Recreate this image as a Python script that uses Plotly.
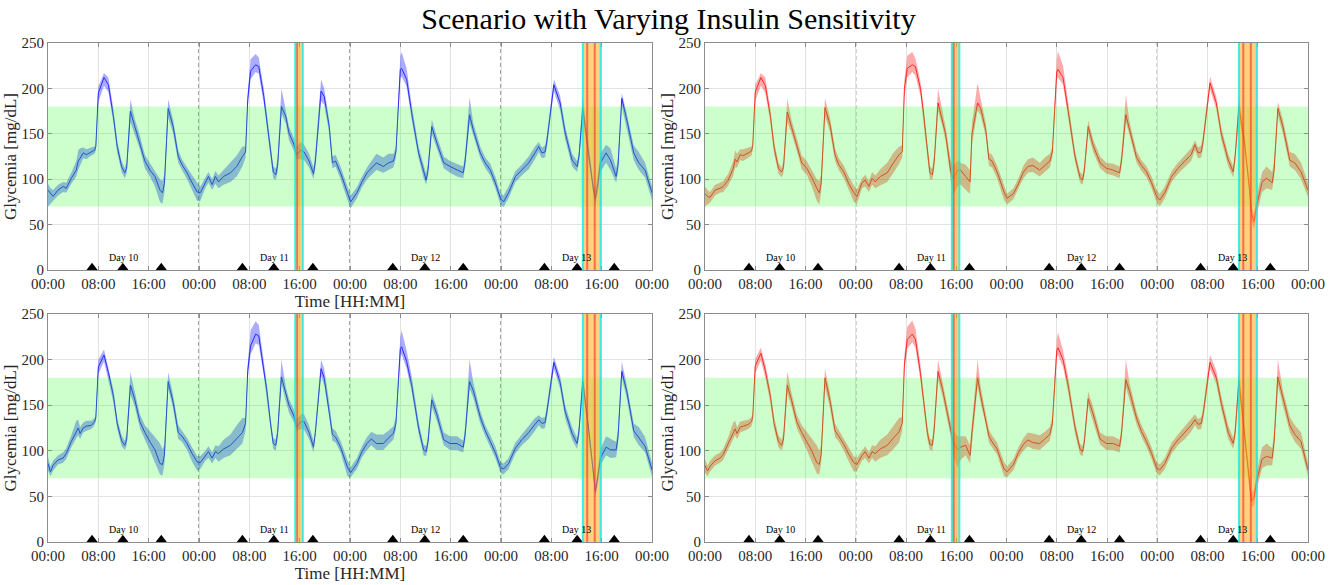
import plotly.graph_objects as go

# ---------------------------------------------------------------------------
# Data: four days (Day 10-13) of CGM glycemia, hours since 00:00 of Day 10
# ---------------------------------------------------------------------------
hours = [
    0, 0.4, 0.8, 1.6, 2.4, 2.9, 3.7, 4.5, 4.8, 5.1, 5.6, 6.1, 6.9, 7.4, 7.6, 8.0, 8.9, 9.6, 10.4, 11.0,
    11.7, 12.2, 12.5, 13.1, 13.8, 14.6, 15.4, 16.2, 17.0, 17.8, 18.2, 18.5, 19.1, 19.9, 20.7, 21.3, 22.1, 22.9, 23.7,
    24.2, 25.0, 25.5, 26.1, 26.6, 27.1, 27.9, 29.0, 30.0, 30.9, 31.4, 31.75, 32.2, 33.0, 33.5, 34.3, 34.8, 35.4, 35.8,
    36.2, 36.5, 37.1, 37.8, 38.3, 39.1, 39.5, 40.2, 40.7, 41.5, 42.2, 42.5, 43.4, 43.9, 44.7, 45.2, 45.7, 46.5, 47.6,
    48.1, 49.1, 49.9, 50.7, 51.4, 52.2, 53.3, 54.1, 54.9, 55.3, 56.0, 56.2, 57.0, 57.8, 58.9, 59.7, 60.1, 60.4, 61.0,
    61.8, 62.9, 63.9, 65.0, 66.0, 66.3, 67.0, 67.6, 68.7, 69.5, 70.3, 71.1, 71.9,
    72.4, 73.2, 74.3, 75.3, 76.4, 77.4, 78.0, 78.5, 79.0, 79.3, 80.4, 81.4, 82.2, 83.3, 84.1, 84.4, 85.0, 85.9, 86.7,
    87.0, 87.4, 87.8, 88.7, 89.4, 90.3, 90.6, 91.2, 92.0, 93.1, 93.9, 94.9, 96.0,
]

# Top-left (blue)
mean_a = [
    88, 84, 81, 88, 92, 90, 101, 110, 120, 123, 129, 127, 130, 132, 136, 195, 212, 204, 169, 136,
    114, 107, 112, 175, 158, 140, 120, 110, 103, 88, 85, 95, 178, 158, 125, 116, 107, 96, 86,
    85, 96, 103, 94, 103, 97, 103, 107, 114, 125, 130, 188, 219, 226, 224, 191, 165, 129, 108,
    105, 115, 180, 169, 151, 138, 127, 132, 130, 120, 106, 120, 197, 191, 158, 118, 120, 107, 85,
    75, 85, 97, 107, 112, 118, 114, 118, 120, 130, 221, 222, 210, 173, 129, 107, 99, 110, 158,
    140, 118, 114, 110, 107, 120, 171, 154, 129, 118, 110, 96, 79,
    75, 85, 103, 110, 118, 129, 136, 129, 130, 142, 204, 184, 151, 121, 114, 125, 178, 129, 88,
    79, 95, 118, 129, 121, 103, 115, 189, 165, 129, 118, 110, 85,
]
lo_a = [
    70, 74, 76, 82, 86, 85, 95, 103, 110, 116, 123, 122, 126, 128, 131, 185, 203, 196, 162, 129,
    108, 101, 106, 163, 150, 133, 112, 103, 92, 75, 73, 85, 168, 150, 118, 110, 100, 88, 76,
    76, 90, 96, 88, 95, 90, 94, 97, 103, 114, 124, 180, 210, 218, 216, 183, 158, 122, 101,
    99, 108, 172, 161, 143, 131, 122, 122, 121, 113, 100, 113, 186, 182, 151, 112, 114, 100, 77,
    68, 79, 91, 100, 105, 110, 107, 110, 113, 124, 212, 213, 202, 166, 123, 101, 94, 104, 150,
    133, 112, 107, 103, 101, 113, 162, 147, 123, 112, 104, 90, 72,
    69, 79, 97, 104, 111, 122, 130, 123, 124, 135, 197, 176, 144, 114, 108, 118, 168, 122, 82,
    71, 86, 108, 118, 110, 96, 108, 180, 157, 121, 110, 102, 77,
]
hi_a = [
    95, 90, 88, 94, 97, 96, 107, 120, 132, 134, 135, 133, 135, 136, 140, 202, 217, 212, 177, 142,
    120, 112, 120, 188, 166, 148, 127, 118, 110, 100, 98, 105, 188, 165, 132, 122, 113, 104, 96,
    92, 101, 108, 100, 109, 104, 110, 118, 126, 136, 136, 196, 232, 238, 234, 200, 173, 135, 114,
    112, 124, 200, 176, 158, 145, 136, 141, 138, 128, 113, 130, 210, 200, 165, 125, 127, 114, 93,
    82, 91, 103, 113, 120, 128, 124, 128, 128, 136, 236, 240, 222, 182, 136, 114, 106, 118, 166,
    147, 125, 120, 117, 114, 128, 190, 162, 136, 124, 117, 103, 85,
    82, 92, 109, 116, 125, 136, 141, 135, 137, 149, 210, 192, 158, 128, 120, 132, 190, 136, 95,
    88, 105, 128, 138, 134, 112, 124, 195, 172, 137, 130, 118, 92,
]

# Top-right (red)
mean_b = [
    84, 81, 80, 88, 90, 92, 99, 112, 122, 119, 127, 126, 129, 131, 137, 196, 212, 203, 170, 135,
    112, 108, 113, 174, 157, 138, 118, 112, 102, 90, 85, 96, 179, 160, 127, 116, 108, 95, 85,
    81, 96, 99, 92, 101, 97, 103, 107, 118, 127, 130, 200, 222, 226, 224, 200, 172, 132, 107,
    105, 120, 184, 165, 150, 110, 100, 110, 110, 103, 97, 150, 184, 178, 154, 122, 120, 108, 86,
    79, 84, 95, 108, 114, 115, 110, 115, 120, 130, 218, 221, 212, 176, 125, 102, 99, 110, 158,
    137, 118, 112, 110, 107, 120, 171, 155, 124, 115, 108, 96, 81,
    77, 85, 103, 112, 120, 127, 138, 129, 130, 142, 206, 184, 150, 121, 108, 125, 180, 140, 88,
    62, 53, 70, 97, 101, 96, 110, 178, 158, 121, 118, 108, 88,
]
lo_b = [
    70, 72, 74, 82, 85, 86, 93, 104, 113, 113, 121, 120, 124, 126, 132, 186, 203, 195, 163, 128,
    106, 102, 107, 163, 150, 131, 111, 105, 92, 76, 72, 86, 170, 152, 120, 110, 101, 88, 75,
    73, 90, 92, 86, 94, 90, 93, 97, 107, 117, 124, 190, 212, 218, 214, 192, 164, 125, 100,
    99, 112, 175, 158, 142, 100, 82, 92, 94, 88, 84, 138, 176, 170, 147, 115, 113, 101, 77,
    72, 78, 89, 101, 107, 108, 103, 108, 113, 124, 210, 212, 204, 168, 119, 96, 94, 104, 150,
    130, 112, 106, 104, 101, 113, 163, 148, 118, 109, 102, 90, 74,
    70, 79, 97, 106, 113, 120, 132, 123, 124, 135, 199, 177, 143, 114, 102, 118, 170, 133, 82,
    54, 45, 60, 86, 90, 88, 102, 170, 150, 114, 110, 100, 80,
]
hi_b = [
    92, 88, 86, 94, 96, 98, 106, 120, 132, 128, 133, 133, 135, 136, 141, 204, 217, 212, 178, 142,
    118, 113, 121, 189, 165, 146, 126, 120, 110, 100, 98, 106, 189, 168, 134, 123, 115, 103, 93,
    89, 101, 105, 98, 108, 104, 111, 118, 129, 136, 137, 210, 236, 240, 233, 208, 180, 139, 114,
    112, 128, 200, 173, 158, 121, 115, 120, 118, 116, 110, 162, 206, 188, 162, 129, 127, 115, 94,
    84, 90, 101, 115, 122, 124, 118, 124, 128, 136, 232, 241, 225, 186, 132, 108, 105, 117, 165,
    144, 125, 118, 117, 114, 128, 193, 163, 131, 121, 114, 103, 88,
    84, 92, 109, 118, 127, 134, 143, 135, 137, 149, 213, 191, 157, 128, 114, 132, 192, 147, 95,
    70, 62, 80, 108, 114, 108, 120, 185, 166, 130, 128, 118, 96,
]

# Bottom-left (blue)
mean_c = [
    86, 77, 84, 90, 92, 97, 110, 122, 125, 119, 125, 127, 128, 132, 136, 192, 205, 186, 160, 130,
    111, 106, 112, 172, 156, 132, 120, 110, 101, 86, 85, 95, 176, 153, 120, 116, 108, 97, 88,
    87, 95, 99, 92, 99, 97, 102, 106, 114, 120, 130, 188, 215, 228, 226, 190, 165, 128, 108,
    106, 120, 181, 162, 150, 138, 126, 132, 132, 120, 104, 120, 190, 180, 145, 118, 115, 104, 82,
    76, 86, 99, 108, 113, 108, 108, 114, 119, 130, 212, 214, 198, 172, 125, 101, 99, 110, 156,
    140, 112, 108, 108, 104, 118, 176, 166, 137, 122, 110, 98, 82,
    80, 86, 103, 112, 120, 129, 134, 130, 131, 143, 197, 175, 143, 119, 108, 122, 176, 126, 76,
    55, 72, 92, 104, 101, 101, 115, 187, 165, 122, 114, 105, 79,
]
lo_c = [
    78, 72, 78, 85, 87, 91, 104, 114, 117, 113, 120, 122, 124, 128, 132, 184, 198, 178, 153, 124,
    105, 101, 106, 162, 148, 125, 112, 100, 88, 74, 73, 85, 168, 146, 113, 110, 101, 88, 78,
    80, 89, 92, 86, 92, 88, 92, 95, 102, 108, 122, 180, 206, 218, 216, 182, 157, 122, 102,
    100, 113, 174, 154, 142, 131, 122, 124, 123, 113, 98, 113, 182, 172, 138, 111, 109, 98, 72,
    71, 80, 93, 101, 106, 101, 101, 107, 112, 124, 204, 206, 190, 165, 119, 95, 94, 104, 148,
    133, 106, 101, 101, 98, 111, 168, 158, 130, 116, 104, 92, 76,
    74, 80, 97, 106, 113, 122, 128, 124, 125, 136, 190, 168, 136, 112, 102, 115, 168, 119, 70,
    49, 64, 84, 95, 92, 93, 107, 180, 157, 115, 106, 98, 72,
]
hi_c = [
    93, 83, 89, 95, 98, 103, 117, 133, 134, 126, 131, 133, 133, 136, 140, 200, 211, 192, 167, 136,
    117, 111, 120, 186, 164, 140, 128, 122, 115, 108, 102, 106, 186, 161, 128, 122, 114, 104, 94,
    94, 100, 105, 98, 106, 105, 112, 118, 128, 136, 136, 196, 232, 242, 238, 200, 173, 134, 114,
    112, 127, 200, 170, 157, 145, 134, 140, 140, 128, 111, 128, 200, 190, 153, 125, 122, 111, 90,
    82, 92, 105, 115, 121, 118, 118, 122, 127, 137, 225, 232, 210, 182, 132, 107, 105, 117, 164,
    147, 120, 116, 116, 111, 126, 200, 175, 144, 128, 117, 105, 88,
    86, 92, 109, 118, 127, 136, 139, 136, 137, 150, 203, 182, 150, 126, 114, 129, 186, 133, 83,
    62, 80, 102, 116, 113, 110, 124, 198, 172, 130, 126, 115, 87,
]

# Bottom-right (red)
mean_d = [
    84, 78, 83, 89, 92, 96, 108, 121, 124, 119, 126, 127, 129, 132, 137, 193, 207, 188, 160, 130,
    110, 106, 113, 172, 155, 132, 120, 110, 100, 87, 85, 96, 180, 155, 122, 116, 107, 96, 87,
    85, 95, 99, 92, 99, 97, 102, 106, 114, 121, 130, 195, 222, 228, 222, 185, 155, 120, 107,
    106, 125, 187, 168, 150, 124, 110, 101, 104, 106, 95, 120, 180, 160, 135, 116, 110, 102, 80,
    77, 85, 98, 107, 112, 109, 108, 113, 118, 130, 210, 213, 200, 172, 126, 102, 99, 110, 157,
    140, 113, 108, 108, 105, 118, 178, 165, 136, 121, 110, 97, 81,
    79, 86, 103, 112, 120, 128, 134, 129, 130, 140, 197, 180, 152, 120, 108, 120, 177, 120, 62,
    45, 48, 66, 91, 94, 92, 110, 181, 158, 128, 118, 110, 79,
]
lo_d = [
    76, 72, 77, 84, 87, 90, 102, 113, 117, 113, 120, 122, 124, 127, 132, 185, 199, 180, 153, 124,
    104, 100, 107, 163, 148, 125, 113, 101, 89, 75, 74, 86, 170, 147, 115, 110, 100, 88, 77,
    78, 89, 92, 86, 92, 88, 92, 95, 102, 109, 122, 186, 212, 219, 213, 177, 148, 113, 101,
    100, 117, 178, 160, 142, 116, 96, 82, 90, 95, 86, 110, 171, 152, 128, 109, 104, 96, 72,
    71, 79, 92, 100, 105, 102, 101, 106, 111, 124, 202, 205, 192, 165, 119, 96, 94, 104, 149,
    133, 107, 101, 101, 98, 111, 170, 157, 129, 115, 104, 91, 75,
    73, 80, 97, 106, 113, 121, 128, 123, 124, 133, 190, 173, 145, 113, 102, 113, 167, 113, 55,
    38, 40, 57, 81, 84, 84, 101, 172, 150, 120, 110, 102, 72,
]
hi_d = [
    91, 84, 89, 95, 98, 102, 115, 131, 133, 126, 132, 133, 134, 137, 141, 201, 213, 195, 167, 137,
    117, 112, 121, 187, 163, 140, 128, 121, 114, 106, 100, 107, 190, 163, 130, 123, 114, 104, 94,
    92, 100, 105, 98, 106, 105, 112, 118, 128, 136, 137, 205, 236, 243, 234, 195, 163, 127, 113,
    112, 133, 200, 176, 158, 132, 122, 116, 116, 116, 106, 130, 200, 170, 143, 123, 117, 109, 88,
    83, 91, 104, 114, 120, 119, 117, 121, 126, 137, 222, 230, 210, 182, 133, 108, 105, 117, 165,
    148, 120, 116, 116, 112, 126, 200, 174, 143, 128, 117, 104, 88,
    85, 92, 109, 118, 127, 135, 140, 135, 137, 147, 205, 188, 160, 128, 114, 127, 190, 128, 70,
    53, 58, 76, 104, 108, 103, 120, 200, 166, 137, 128, 120, 87,
]

meal_hours = [7.0, 11.9, 18.0, 30.9, 35.9, 42.1, 54.8, 59.9, 66.0, 78.9, 84.1, 90.0]
day_numbers = [10, 11, 12, 13]
day_boundaries = [24, 48, 72]
tick_hours = list(range(0, 97, 8))
tick_text = ["00:00", "08:00", "16:00"] * 4 + ["00:00"]
target_range = (70, 180)

# Activity windows and event markers (hours)
activity_windows = [(39.3, 40.5), (85.0, 87.85)]
cyan_marks = [39.3, 40.5, 85.0, 87.85]
red_marks = [39.6, 85.7, 86.9]

for name, arr in [("mean_a", mean_a), ("lo_a", lo_a), ("hi_a", hi_a),
                  ("mean_b", mean_b), ("lo_b", lo_b), ("hi_b", hi_b),
                  ("mean_c", mean_c), ("lo_c", lo_c), ("hi_c", hi_c),
                  ("mean_d", mean_d), ("lo_d", lo_d), ("hi_d", hi_d)]:
    if len(arr) != len(hours):
        raise ValueError(f"{name} has {len(arr)} values, expected {len(hours)}")

# ---------------------------------------------------------------------------
# Layout helpers
# ---------------------------------------------------------------------------
W, H = 1337, 585
SERIF = "Liberation Serif"
AXIS_GRAY = "#8c8c8c"
GRID_GRAY = "#e3e3e3"
TEXT = "#262626"

left_x = (48 / W, 652 / W)
right_x = (705 / W, 1308 / W)
top_y = (1 - 270 / H, 1 - 43 / H)
bottom_y = (1 - 542 / H, 1 - 314 / H)

panels = [
    dict(key="", mean=mean_a, lo=lo_a, hi=hi_a, line="#2a2aff", band="rgba(0,0,255,0.33)",
         xd=left_x, yd=top_y, xlabel=True),
    dict(key="2", mean=mean_b, lo=lo_b, hi=hi_b, line="#ff2a2a", band="rgba(255,0,0,0.33)",
         xd=right_x, yd=top_y, xlabel=False),
    dict(key="3", mean=mean_c, lo=lo_c, hi=hi_c, line="#2a2aff", band="rgba(0,0,255,0.33)",
         xd=left_x, yd=bottom_y, xlabel=True),
    dict(key="4", mean=mean_d, lo=lo_d, hi=hi_d, line="#ff2a2a", band="rgba(255,0,0,0.33)",
         xd=right_x, yd=bottom_y, xlabel=False),
]

fig = go.Figure()
shapes = []
annotations = []
layout_axes = {}

for p in panels:
    xa = "x" + p["key"]
    ya = "y" + p["key"]

    # spread band (min/max envelope)
    fig.add_trace(go.Scatter(
        x=hours + hours[::-1], y=p["hi"] + p["lo"][::-1],
        fill="toself", fillcolor=p["band"], line=dict(width=0),
        mode="lines", hoverinfo="skip", showlegend=False, xaxis=xa, yaxis=ya,
    ))
    # mean trace
    fig.add_trace(go.Scatter(
        x=hours, y=p["mean"], mode="lines", line=dict(color=p["line"], width=1),
        showlegend=False, xaxis=xa, yaxis=ya,
    ))
    # meal announcements
    fig.add_trace(go.Scatter(
        x=meal_hours, y=[2.5] * len(meal_hours), mode="markers",
        marker=dict(symbol="triangle-up", size=10, color="black"),
        cliponaxis=False, showlegend=False, xaxis=xa, yaxis=ya,
    ))

    # day separators
    for d in day_boundaries:
        shapes.append(dict(type="line", xref=xa, yref=ya + " domain", x0=d, x1=d, y0=0, y1=1,
                           line=dict(color="#4a4a4a", width=1, dash="4px,3px"), layer="below"))
    # target range
    shapes.append(dict(type="rect", xref=xa, yref=ya, x0=0, x1=96,
                       y0=target_range[0], y1=target_range[1],
                       fillcolor="rgba(0,255,0,0.2)", line=dict(width=0), layer="above"))
    # activity windows
    for a0, a1 in activity_windows:
        shapes.append(dict(type="rect", xref=xa, yref=ya + " domain", x0=a0, x1=a1, y0=0, y1=1,
                           fillcolor="rgba(255,165,0,0.5)", line=dict(width=0), layer="above"))
    for r in red_marks:
        shapes.append(dict(type="line", xref=xa, yref=ya + " domain", x0=r, x1=r, y0=0, y1=1,
                           line=dict(color="rgba(255,40,40,0.6)", width=2), layer="above"))
    for c in cyan_marks:
        shapes.append(dict(type="line", xref=xa, yref=ya + " domain", x0=c, x1=c, y0=0, y1=1,
                           line=dict(color="rgba(0,235,235,0.75)", width=2), layer="above"))

    # day labels
    for i, dn in enumerate(day_numbers):
        annotations.append(dict(x=24 * i + 12, y=14, xref=xa, yref=ya, text=f"Day {dn}",
                                showarrow=False, font=dict(family=SERIF, size=10, color="black")))

    axis_common = dict(showline=True, linecolor=AXIS_GRAY, linewidth=1, mirror="ticks",
                       ticks="inside", ticklen=4, tickcolor=AXIS_GRAY, zeroline=False,
                       showgrid=True, gridcolor=GRID_GRAY, gridwidth=1, automargin=False,
                       tickfont=dict(family=SERIF, size=15, color=TEXT))
    xname = "xaxis" + p["key"]
    yname = "yaxis" + p["key"]
    layout_axes[xname] = dict(
        axis_common, domain=list(p["xd"]), anchor=ya, range=[0, 96],
        tickmode="array", tickvals=tick_hours, ticktext=tick_text,
        title=dict(text="Time [HH:MM]" if p["xlabel"] else "", standoff=0,
                   font=dict(family=SERIF, size=17, color=TEXT)),
    )
    layout_axes[yname] = dict(
        axis_common, domain=list(p["yd"]), anchor=xa, range=[0, 250],
        tickmode="array", tickvals=[0, 50, 100, 150, 200, 250],
        title=dict(text="Glycemia [mg/dL]", standoff=0,
                   font=dict(family=SERIF, size=17, color=TEXT)),
    )

fig.update_layout(
    width=W, height=H,
    margin=dict(l=0, r=0, t=0, b=0, autoexpand=False),
    paper_bgcolor="white", plot_bgcolor="white",
    title=dict(text="Scenario with Varying Insulin Sensitivity", x=0.5, xanchor="center",
               y=1 - 18 / H, yanchor="middle", yref="container", automargin=False,
               font=dict(family=SERIF, size=30, color="black")),
    shapes=shapes, annotations=annotations, showlegend=False,
    **layout_axes,
)

fig.write_html("out.html")
